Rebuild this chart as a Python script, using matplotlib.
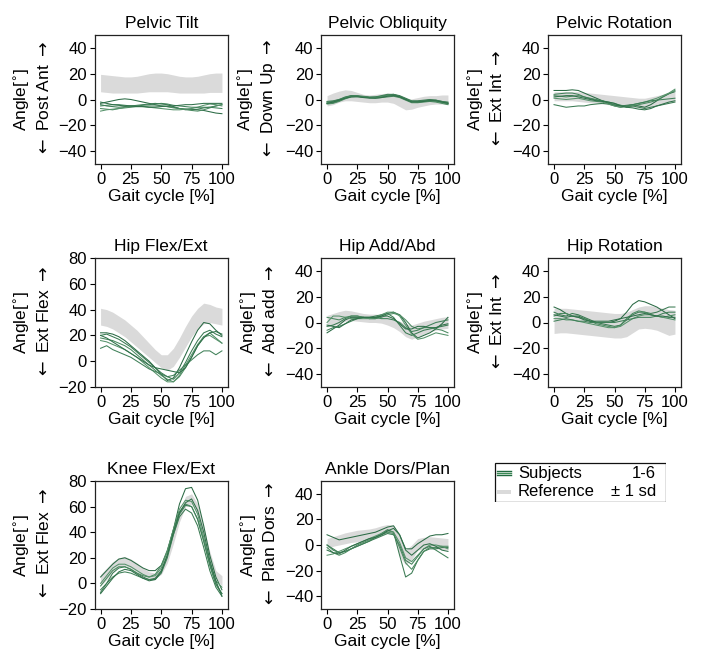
import numpy as np
import matplotlib
matplotlib.use("Agg")
import matplotlib.pyplot as plt
from matplotlib.patches import Rectangle

plt.rcParams['font.family'] = ['Liberation Sans', 'DejaVu Sans']
plt.rcParams['font.size'] = 12

# gait cycle samples (%)
cycle = np.arange(0, 101, 5)

titles = ["Pelvic Tilt", "Pelvic Obliquity", "Pelvic Rotation",
          "Hip Flex/Ext", "Hip Add/Abd", "Hip Rotation",
          "Knee Flex/Ext", "Ankle Dors/Plan"]
directions = ["Post Ant", "Down Up", "Ext Int",
              "Ext Flex", "Abd add", "Ext Int",
              "Ext Flex", "Plan Dors"]

# reference band (mean +- 1 sd), upper and lower edges
pelvic_tilt_hi = [19.5, 19, 18.5, 18, 17.5, 17.5, 18, 19, 20, 20.5, 20.5, 20, 19, 18, 17.5, 17.5, 18, 19, 20, 20.5, 20.5]
pelvic_tilt_lo = [6, 5.5, 5, 5, 5, 5, 5, 5.5, 6, 6, 6, 6, 5.5, 5, 5, 5, 5, 5, 5.5, 5.5, 5.5]
pelvic_obl_hi = [3, 5, 6.5, 7.5, 7, 5.5, 4, 3.5, 4, 4.5, 5, 4, 2, 0, 0.5, 1.5, 2.5, 3, 3, 3.5, 3.5]
pelvic_obl_lo = [-5, -4, -2, -1, -1, -1.5, -2, -2.5, -2.5, -2, -2, -3, -5.5, -8, -7.5, -6, -5, -4, -3.5, -3.5, -3.5]
pelvic_rot_hi = [6, 6, 6, 6, 6, 5.5, 5, 4.5, 4, 3.5, 3, 2.5, 2, 1.5, 1, 1, 2, 3, 4, 5, 5.5]
pelvic_rot_lo = [-1, -1, -1, -1, -1.5, -2, -2.5, -3, -3.5, -4, -4.5, -5, -5.5, -6, -6.5, -6.5, -5.5, -4.5, -3.5, -2, -1]
hip_flex_hi = [41, 40, 38, 35, 32, 28, 24, 19, 14, 9, 5, 5, 10, 18, 27, 35, 41, 45, 44, 42, 41]
hip_flex_lo = [28, 27, 25, 22, 19, 15, 11, 7, 3, -1, -5, -7, -4, 3, 11, 19, 25, 29, 30, 29, 28]
hip_add_hi = [5.5, 7, 8.5, 9.5, 9, 8, 7, 6.5, 6.5, 6, 5, 3, 1, -1, -2, -0.5, 1, 2, 3, 4, 4.5]
hip_add_lo = [-3.5, -2.5, -1, 1, 1.5, 1, 0.5, 0, 0, -0.5, -2, -4, -7, -11, -13, -11, -9, -7, -6, -5, -4.5]
hip_rot_hi = [11, 11, 11, 10.5, 10, 9.5, 9, 8.5, 8, 7.5, 7, 7, 8, 10, 12, 13, 13, 12, 11, 10, 9.5]
hip_rot_lo = [-8.5, -8, -8, -8.5, -9, -9.5, -10, -10.5, -11, -11.5, -12, -12, -11, -8, -5, -4.5, -5, -6, -8, -10, -9]
knee_hi = [7, 12, 17, 20, 21, 19, 16, 12, 9, 8, 12, 22, 38, 56, 68, 70, 62, 44, 25, 10, 6]
knee_lo = [-2, 3, 9, 13, 14, 12, 9, 6, 4, 4, 7, 16, 31, 48, 60, 62, 54, 36, 17, 4, -2]
ankle_hi = [5, 6.5, 8, 9.5, 10.5, 11.5, 12, 12.5, 13.5, 15, 16, 15.5, 6.5, -4, 0, 5, 6, 6.5, 6, 5.5, 5]
ankle_lo = [-2.5, -1, 0, 1, 2, 2.5, 3, 4, 5, 7, 9, 8, -9, -15.5, -11.5, -4, -3, -2.5, -3, -3.5, -4]

# subjects 1-6
pelvic_tilt_subj = [
    [-3, -2, -1, 0, 0.5, 0, -1, -2, -3, -4, -5, -5.5, -6, -7, -7.5, -7.5, -8, -8.5, -9.5, -10.5, -11],
    [-4, -5, -5.5, -6, -5.5, -5, -4.5, -4, -3.5, -3, -3.5, -4, -5.5, -7, -8, -8, -7.5, -6.5, -6, -5, -4],
    [-7, -7.5, -8, -7, -6.5, -6, -5.5, -5.5, -5, -5, -5, -5.5, -6.5, -7, -7.5, -8.5, -9, -8, -6.5, -5, -4],
    [-9, -8, -7.5, -7, -6, -5.5, -5, -5.5, -6, -6.5, -7, -7.5, -8, -8, -7.5, -7, -6, -4.5, -3.5, -4, -5],
    [-5, -4.5, -4, -4, -4.5, -5, -5, -4.5, -4, -3.5, -3, -3.5, -4.5, -5, -5.5, -6, -6, -6, -6, -6.5, -7],
    [-2, -3, -4, -4.5, -5, -5, -5.5, -5.5, -6, -6, -5.5, -5, -5, -4.5, -4, -4, -3.5, -3, -3, -3, -3],
]
pelvic_obl_subj = [
    [-3, -2.5, -1, 1, 2.5, 2.5, 2, 1.5, 1.5, 2, 3, 3.5, 2.5, 0.5, -1.5, -1.5, -1, -0.5, -1, -2, -3],
    [-2, -1.5, 0, 1.5, 3, 3, 2.5, 2, 2, 2.5, 3.5, 4, 3, 1, -1, -1, -0.5, 0, -0.5, -1.5, -2.5],
    [-3.5, -3, -1.5, 0.5, 2, 2.5, 2, 1.5, 1, 1.5, 2, 2.5, 1.5, -0.5, -2.5, -2.5, -2, -1.5, -2, -3, -4],
    [-2.5, -2, -0.5, 1.5, 2.5, 2.5, 2, 1.5, 1.5, 2.5, 3, 3, 2, 0, -1.5, -2, -1.5, -1, -1.5, -2.5, -3.5],
    [-1.5, -1, 0, 2, 3, 2.5, 2, 1.5, 2, 3, 4, 4, 2.5, 0, -1.5, -1.5, -1, -0.5, -0.5, -1.5, -2],
    [-3, -2, -0.5, 1, 2, 2, 1.5, 1, 1, 1.5, 2.5, 3, 2, 0, -2, -2, -1.5, -1, -1, -2, -3],
]
pelvic_rot_subj = [
    [7, 7, 7, 7.5, 7, 5, 3, 1, -1, -3, -4.5, -5, -4.5, -4, -5, -6, -4, -1, 2, 4.5, 6],
    [-4, -5, -6, -5.5, -5, -5, -4, -3.5, -3, -3.5, -5, -6, -5.5, -5, -6, -7, -6, -5, -4, -3, -2],
    [3, 2.5, 2, 2.5, 3, 2, 1, 0, -1, -2, -3, -4.5, -6, -5, -4, -3, -2, -0.5, 2, 4.5, 7],
    [1, 0.5, 0, 0.5, 1, 0, -1, -1.5, -2, -3.5, -5, -6, -5, -4, -3, -2, -0.5, 1, 3, 5, 8],
    [4, 4.5, 5, 5, 4, 2, 0.5, -0.5, -1, -2.5, -4, -4.5, -5, -4, -3, -2, -1, -0.5, 0, 0.5, 1],
    [2, 2.5, 3, 3, 2, 1, 0, -1, -1.5, -2, -3, -5, -6, -6.5, -7.5, -8, -7, -5, -3.5, -2, -1],
]
hip_flex_subj = [
    [22, 22, 21, 19, 16, 12, 8, 4, 0, -5, -10, -15, -13, -5, 5, 15, 24, 30, 29, 24, 20],
    [20, 21, 19, 17, 14, 11, 7, 3, -1, -5, -9, -12, -14, -9, -1, 8, 16, 22, 24, 21, 19],
    [18, 17, 16, 14, 12, 9, 5, 1, -3, -7, -11, -14, -16, -12, -5, 3, 12, 19, 22, 18, 14],
    [16, 15, 13, 11, 9, 6, 3, -1, -5, -9, -13, -16, -16, -11, -3, 5, 13, 19, 20, 17, 14],
    [10, 12, 9, 7, 5, 3, 0, -3, -6, -8, -10, -12, -11, -7, -3, 1, 5, 8, 8, 5, 8],
    [20, 18, 15, 12, 9, 6, 3, 0, -3, -5, -6, -7, -8, -9, -5, 3, 12, 18, 22, 23, 21],
]
hip_add_subj = [
    [-8, -5, -2, 2, 4, 4, 4, 3, 3, 5, 7, 8, 6, 0, -8, -12, -10, -8, -5, -1, 4],
    [-3, -2, 0, 3, 5, 5, 4, 4, 5, 6, 7, 4, -2, -8, -10, -8, -6, -5, -4, -3, -2],
    [4, 3, 2, 4, 5, 5, 4, 3, 3, 4, 6, 7, 6, 2, -3, -5, -4, -4, -5, -6, -8],
    [0, 5, 5, 4, 3, 3, 3, 3, 4, 6, 8, 8, 5, -2, -9, -13, -12, -10, -8, -9, -10],
    [-6, -4, -3, -1, 1, 3, 4, 4, 4, 3, 3, 2, 0, -4, -7, -6, -4, -2, 0, 1, 2],
    [-2, -3, -4, -1, 2, 3, 4, 4, 4, 5, 5, 3, -1, -5, -5, -3, -3, -4, -4, -2, -1],
]
hip_rot_subj = [
    [12, 10, 7, 5, 5, 3, 1, 0, 0, 0, 1, 3, 8, 14, 17, 16, 14, 12, 9, 6, 3],
    [8, 6, 5, 7, 6, 4, 2, 0, -1, -2, -3, -2, 2, 6, 8, 8, 7, 8, 10, 12, 12],
    [5, 7, 7, 5, 4, 3, 1, -1, -2, -3, -4, -2, 3, 7, 9, 8, 6, 5, 4, 5, 6],
    [3, 3, 2, 2, 1, 0, -1, -2, -3, -4, -4, -3, 0, 3, 5, 6, 6, 5, 4, 3, 2],
    [1, 2, 3, 2, 1, 1, 0, 0, 0, 0, 0, 1, 2, 3, 4, 4, 4, 5, 7, 8, 8],
    [6, 5, 4, 5, 4, 2, 1, 1, 1, 1, 2, 3, 4, 5, 6, 7, 6, 5, 5, 4, 4],
]
knee_subj = [
    [5, 10, 15, 19, 20, 18, 15, 12, 10, 10, 14, 25, 42, 62, 74, 75, 65, 45, 22, 5, -5],
    [-7, 0, 8, 12, 13, 11, 8, 5, 3, 4, 10, 22, 38, 52, 58, 55, 45, 28, 10, -3, -10],
    [-2, 4, 10, 13, 13, 11, 8, 6, 5, 7, 14, 26, 42, 56, 62, 60, 50, 33, 15, 0, -8],
    [0, 6, 12, 15, 15, 13, 10, 7, 5, 6, 12, 25, 42, 58, 65, 64, 54, 36, 16, 2, -3],
    [-5, 0, 5, 8, 9, 8, 6, 4, 3, 3, 8, 20, 38, 54, 61, 60, 50, 33, 14, -1, -8],
    [-8, -2, 4, 9, 11, 10, 7, 4, 2, 3, 9, 22, 40, 55, 63, 66, 57, 40, 18, 2, -10],
]
ankle_subj = [
    [8, 6, 4, 5, 6, 7, 8, 9, 10, 12, 14, 15, 8, -3, -3, 1, 4, 7, 8, 8, 9],
    [0, -3, -6, -5, -3, -1, 1, 3, 6, 9, 12, 10, -8, -25, -22, -12, -5, -3, -3, -2, -2],
    [-2, -6, -8, -6, -3, 0, 2, 4, 6, 8, 10, 9, -2, -14, -19, -12, -5, -2, -2, -1, -1],
    [-8, -7, -5, -3, -1, 1, 3, 5, 7, 9, 11, 10, 2, -10, -13, -8, -3, 0, 0, -1, -3],
    [0, -4, -6, -5, -3, -1, 1, 3, 5, 7, 9, 8, 0, -12, -15, -9, -3, -1, -4, -7, -10],
    [-4, -6, -7, -4, -1, 1, 3, 5, 6, 8, 11, 13, 8, -4, -8, -4, 0, 1, -1, -4, -5],
]

bands = [(pelvic_tilt_lo, pelvic_tilt_hi), (pelvic_obl_lo, pelvic_obl_hi), (pelvic_rot_lo, pelvic_rot_hi),
         (hip_flex_lo, hip_flex_hi), (hip_add_lo, hip_add_hi), (hip_rot_lo, hip_rot_hi),
         (knee_lo, knee_hi), (ankle_lo, ankle_hi)]
subjects = [pelvic_tilt_subj, pelvic_obl_subj, pelvic_rot_subj,
            hip_flex_subj, hip_add_subj, hip_rot_subj,
            knee_subj, ankle_subj]
flex_panels = [3, 6]  # y range -20..80

greens = ['#2a6a44', '#3a7a52', '#4a8960', '#55926a', '#3f8058', '#2f7049']
band_col = '#dadada'

W, H = 703, 658
fig = plt.figure(figsize=(W / 100, H / 100), dpi=100)


def px_axes(x0, y0, x1, y1):
    # pixel box (top-left origin) -> figure axes
    return fig.add_axes([x0 / W, 1 - y1 / H, (x1 - x0) / W, (y1 - y0) / H])


col_x = [(94.5, 228), (321, 454), (548, 681)]
row_y = [(35, 164), (258, 387), (481, 609)]

for i in range(8):
    r, c = divmod(i, 3)
    ax = px_axes(col_x[c][0], row_y[r][0], col_x[c][1], row_y[r][1])
    lo, hi = bands[i]
    ax.fill_between(cycle, lo, hi, color=band_col, lw=0, zorder=1)
    for k, s in enumerate(subjects[i]):
        ax.plot(cycle, s, color=greens[k], lw=0.75, zorder=2)
    ax.set_xlim(-5, 105)
    ax.set_xticks([0, 25, 50, 75, 100])
    if i in flex_panels:
        ax.set_ylim(-20, 80)
        ax.set_yticks([-20, 0, 20, 40, 60, 80])
    else:
        ax.set_ylim(-50, 50)
        ax.set_yticks([-40, -20, 0, 20, 40])
    ax.set_title(titles[i], fontsize=12.5, pad=5)
    ax.set_xlabel("Gait cycle [%]", fontsize=12.5, labelpad=2)
    ax.set_ylabel("Angle[$^{\\circ}$]\n$\\leftarrow$ " + directions[i] + " $\\rightarrow$",
                  fontsize=12.5, labelpad=5, linespacing=1.25)
    ax.tick_params(labelsize=12, length=3.5, width=0.8, pad=2)
    for sp in ax.spines.values():
        sp.set_linewidth(0.9)
        sp.set_color('#222222')

# legend box in the empty slot
lax = px_axes(494, 462, 666, 502)
lax.set_xlim(0, 172)
lax.set_ylim(40, 0)
lax.axis('off')
lax.add_patch(Rectangle((0.5, 0.5), 171, 39, fill=False, ec='#111111', lw=0.9))
for k, yy in enumerate([8.8, 10.8, 12.8]):
    lax.plot([3, 17], [yy, yy], color=['#1f6a3e', '#3a8a55', '#1f6a3e'][k], lw=1.0)
lax.add_patch(Rectangle((3, 27.5), 14, 4.5, color=band_col, lw=0))
lax.text(24, 11.3, "Subjects", fontsize=12, va='center', ha='left')
lax.text(162, 11.3, "1-6", fontsize=12, va='center', ha='right')
lax.text(24, 29.7, "Reference", fontsize=12, va='center', ha='left')
lax.text(162, 29.7, "\u00b1 1 sd", fontsize=12, va='center', ha='right')

fig.savefig("out.png", dpi=100)
